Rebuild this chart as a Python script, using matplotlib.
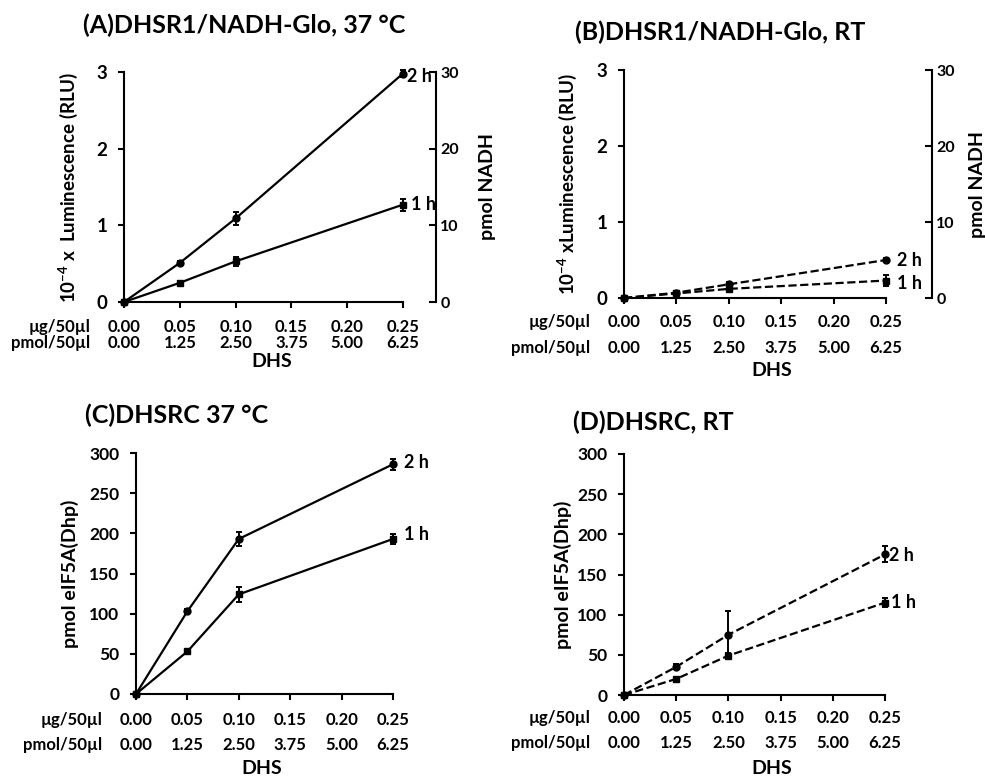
import matplotlib
matplotlib.use('Agg')
import matplotlib.pyplot as plt

plt.rcParams['font.family'] = ['Lato', 'DejaVu Sans']
plt.rcParams['font.weight'] = 'bold'
plt.rcParams['mathtext.fontset'] = 'custom'
plt.rcParams['mathtext.rm'] = 'Lato:bold'
plt.rcParams['mathtext.bf'] = 'Lato:bold'
plt.rcParams['axes.linewidth'] = 1.5

# DHS amount (x) and the two tick label rows
dhs_ug = [0.00, 0.05, 0.10, 0.25]
tick_ug = [0.00, 0.05, 0.10, 0.15, 0.20, 0.25]
tick_ug_lbl = ['0.00', '0.05', '0.10', '0.15', '0.20', '0.25']
tick_pmol_lbl = ['0.00', '1.25', '2.50', '3.75', '5.00', '6.25']

# (A) DHSR1/NADH-Glo 37 C, 10^-4 x RLU
a_2h = [0.0, 0.51, 1.09, 2.98]
a_2h_err = [0.0, 0.02, 0.08, 0.05]
a_1h = [0.0, 0.25, 0.53, 1.27]
a_1h_err = [0.0, 0.02, 0.06, 0.08]
# (B) DHSR1/NADH-Glo RT
b_2h = [0.0, 0.07, 0.18, 0.50]
b_2h_err = [0.0, 0.02, 0.03, 0.03]
b_1h = [0.0, 0.06, 0.12, 0.23]
b_1h_err = [0.0, 0.02, 0.03, 0.07]
# (C) DHSRC 37 C, pmol eIF5A(Dhp)
c_2h = [0, 103, 193, 286]
c_2h_err = [0, 3, 9, 7]
c_1h = [0, 53, 124, 193]
c_1h_err = [0, 3, 9, 6]
# (D) DHSRC RT
d_2h = [0, 35, 75, 175]
d_2h_err = [0, 3, 29, 10]
d_1h = [0, 20, 49, 115]
d_1h_err = [0, 3, 3, 6]

W, H = 985, 779
fig = plt.figure(figsize=(W / 100, H / 100), dpi=100)

yfs = {'A': 13.5, 'B': 13.5, 'C': 12.5, 'D': 12.5}
yl_fs = {'A': 13.5, 'B': 13.5, 'C': 14, 'D': 14}
xfs = 12


def px_rect(x0, x1, y_top, y_bot):
    return [x0 / W, 1 - y_bot / H, (x1 - x0) / W, (y_bot - y_top) / H]


def panel(rect, title, title_xy, s2h, e2h, s1h, e1h, ls, ylim, yticks, ylabel,
          ylab_x, off2h, off1h, row1, row2, dhs_y, dhs_x, right=None):
    ax = fig.add_axes(rect)
    for y, e, mk, off, lab in [(s2h, e2h, 'o', off2h, '2 h'),
                               (s1h, e1h, 's', off1h, '1 h')]:
        ax.errorbar(dhs_ug, y, yerr=e, color='black', ls=ls, lw=1.6,
                    marker=mk, ms=5, capsize=2.5, elinewidth=1.4,
                    capthick=1.4, clip_on=False, zorder=3)
        ax.annotate(lab, (dhs_ug[-1], y[-1]), xytext=off,
                    textcoords='offset points', fontsize=13,
                    ha='left', va='center')
    ax.set_xlim(0, 0.25)
    ax.set_ylim(*ylim)
    ax.set_yticks(yticks)
    ax.set_xticks(tick_ug)
    ax.set_xticklabels([])
    ax.spines['top'].set_visible(False)
    ax.spines['right'].set_visible(False)
    ax.tick_params(axis='y', length=4, width=1.5, pad=8, labelsize=yfs[title[1]])
    ax.tick_params(axis='x', length=4, width=1.5)
    x0 = rect[0] * W
    pw = rect[2] * W
    # two rows of x tick labels
    for t, l1, l2 in zip(tick_ug, tick_ug_lbl, tick_pmol_lbl):
        xp = (x0 + t / 0.25 * pw) / W
        fig.text(xp, 1 - row1 / H, l1, ha='center', va='center', fontsize=xfs)
        fig.text(xp, 1 - row2 / H, l2, ha='center', va='center', fontsize=xfs)
    fig.text((x0 - 34) / W, 1 - row1 / H, 'µg/50µl', ha='right', va='center', fontsize=xfs)
    fig.text((x0 - 34) / W, 1 - row2 / H, 'pmol/50µl', ha='right', va='center', fontsize=xfs)
    fig.text(dhs_x / W, 1 - dhs_y / H, 'DHS', ha='center', va='center', fontsize=14)
    fig.text(ylab_x / W, rect[1] + rect[3] / 2, ylabel, rotation=90,
             ha='center', va='center', fontsize=yl_fs[title[1]])
    fig.text(title_xy[0] / W, 1 - title_xy[1] / H, title, ha='left',
             va='baseline', fontsize=18)
    if right is not None:
        ax2 = ax.twinx()
        ax2.set_ylim(ylim[0] * 10, ylim[1] * 10)
        ax2.set_yticks([0, 10, 20, 30])
        for s in ['top', 'left', 'bottom']:
            ax2.spines[s].set_visible(False)
        ax2.spines['right'].set_position(('axes', right[0]))
        ax2.tick_params(axis='y', direction='in', length=5, width=1.5,
                        pad=3, labelsize=11.5)
        fig.text(right[1] / W, rect[1] + rect[3] / 2, 'pmol NADH', rotation=90,
                 ha='center', va='center', fontsize=14)
    return ax


panel(px_rect(124, 403, 72, 302), '(A)DHSR1/NADH-Glo, 37 °C', (83, 33),
      a_2h, a_2h_err, a_1h, a_1h_err, '-', (0, 3), [0, 1, 2, 3],
      r'10$^{-4}$ x  Luminescence (RLU)', 68, (3, -2), (6, 0),
      327, 343, 362, 272, right=(312 / 279, 488))
panel(px_rect(624, 886, 70, 298), '(B)DHSR1/NADH-Glo, RT', (575, 40),
      b_2h, b_2h_err, b_1h, b_1h_err, '--', (0, 3), [0, 1, 2, 3],
      r'10$^{-4}$ xLuminescence (RLU)', 567, (8, 0), (8, -2),
      322, 348, 370, 772, right=(308 / 262, 978))
panel(px_rect(136, 393, 453, 694), '(C)DHSRC 37 °C', (85, 423),
      c_2h, c_2h_err, c_1h, c_1h_err, '-', (0, 300), [0, 50, 100, 150, 200, 250, 300],
      'pmol eIF5A(Dhp)', 70, (8, 1), (8, 3),
      720, 745, 768, 262)
panel(px_rect(624, 885, 454, 695), '(D)DHSRC, RT', (573, 430),
      d_2h, d_2h_err, d_1h, d_1h_err, '--', (0, 300), [0, 50, 100, 150, 200, 250, 300],
      'pmol eIF5A(Dhp)', 563, (3, -1), (4, 0),
      718, 743, 768, 772)

fig.savefig('out.png', dpi=100)
